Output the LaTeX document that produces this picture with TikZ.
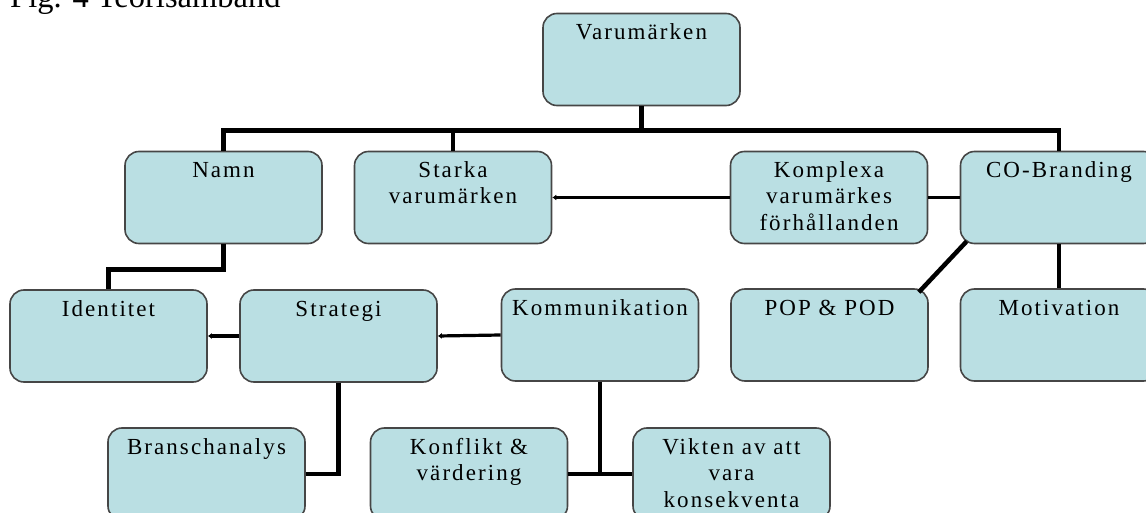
\documentclass[tikz,border=0pt]{standalone}
\usepackage{fontspec}
\setmainfont{Liberation Serif}
\newfontfamily\kortfont[LetterSpace=9]{Liberation Serif}
\usetikzlibrary{arrows.meta}
\definecolor{kortfyll}{RGB}{186,223,227}
\definecolor{kortram}{RGB}{70,70,70}
\newcommand{\korttext}[1]{\parbox[c][88pt][t]{194pt}{\centering\rule{0pt}{24pt}#1}}

\begin{document}
\begin{tikzpicture}[x=1pt, y=-1pt,
  kort/.style={draw=kortram, line width=1.6pt, fill=kortfyll, rounded corners=14pt,
    inner sep=0pt, minimum width=197pt, minimum height=92pt,
    font=\kortfont\fontsize{23}{26.5}\selectfont},
  stam/.style={line width=4.5pt},
  lank/.style={line width=3.2pt},
  pil/.style={lank, -{Latex[length=4pt,width=6pt]}}]
\useasboundingbox (0,0) rectangle (1146,513);

% Rubrik
\node[anchor=base west, inner sep=0pt, font=\fontsize{32.5}{32.5}\selectfont] (titel) at (10,8) {Fig. 4 Teorisamband};

% Kort
\node[kort] (varu) at (641.5,59.5) {\korttext{Varumärken}};
\node[kort] (namn) at (223.5,197.5) {\korttext{Namn}};
\node[kort] (starka) at (453,197.5) {\korttext{Starka\\varumärken}};
\node[kort] (komplexa) at (829,197.5) {\korttext{Komplexa\\varumärkes\\förhållanden}};
\node[kort] (cobrand) at (1059,197.5) {\korttext{CO-Branding}};
\node[kort] (ident) at (108.5,336) {\korttext{Identitet}};
\node[kort] (strategi) at (338.5,336) {\korttext{Strategi}};
\node[kort] (komm) at (600,335) {\korttext{Kommunikation}};
\node[kort] (pop) at (829.5,335) {\korttext{POP \& POD}};
\node[kort] (motiv) at (1059,335) {\korttext{Motivation}};
\node[kort] (bransch) at (206.5,474) {\korttext{Branschanalys}};
\node[kort] (konflikt) at (469,474) {\korttext{Konflikt \&\\värdering}};
\node[kort] (vikten) at (731.5,474) {\korttext{Vikten av att\\vara\\konsekventa}};

% Varumärken och första nivån
\draw[stam, line width=5.5pt] (varu.south) -- ++(0,24) coordinate (nav);
\foreach \n in {namn,starka,cobrand}
  \draw[stam] (\n.north) |- (nav);
\draw[pil] (komplexa.west) -- (starka.east);
\draw[lank] (komplexa.east) -- (cobrand.west);

% CO-Branding
\draw[stam] ([shift={(7,-3)}]cobrand.south west) -- ([shift={(-10,4)}]pop.north east);
\draw[stam] (cobrand.south) -- (motiv.north);

% Namn, Strategi och Kommunikation
\draw[stam] (namn.south) -- ++(0,25) -| (ident.north);
\draw[pil] (strategi.west) -- (ident.east);
\draw[pil] (komm.west) -- (strategi.east);
\draw[stam] (strategi.south) |- (bransch.east);
\draw[stam] (komm.south) |- (konflikt.east);
\draw[stam] (komm.south) |- (vikten.west);
\end{tikzpicture}
\end{document}
